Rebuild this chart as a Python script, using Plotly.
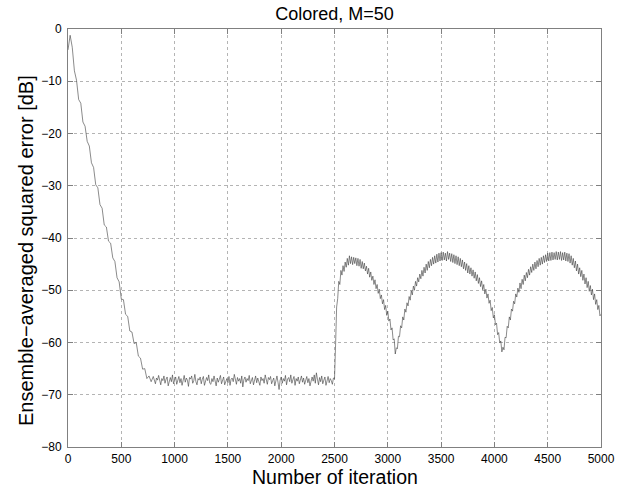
import plotly.graph_objects as go

# Descent phase: iterations 0..780, every 20 iterations
descent_start, descent_step = 0, 20
descent_db = [-4.0, -1.2, -3.5, -8.0, -9.8, -13.5, -14.2, -17.8, -18.6, -21.5,
              -22.4, -25.6, -26.5, -29.8, -30.4, -33.6, -34.3, -37.5, -37.9, -40.6,
              -41.0, -43.8, -44.5, -47.6, -48.4, -51.7, -51.8, -54.6, -55.0, -57.8,
              -58.0, -60.2, -60.0, -62.6, -63.0, -65.1, -65.0, -66.9, -66.4, -67.5]

# Steady-state floor: iterations 800..2500, every 10 iterations
floor_start, floor_step = 800, 10
floor_db = [-66.5, -67.4, -67.9, -66.8, -67.2, -66.3, -67.6, -68.1, -66.9, -67.3,
            -66.4, -67.8, -67.0, -66.6, -68.3, -67.2, -66.7, -67.5, -66.2, -67.9,
            -67.3, -66.6, -68.0, -67.1, -66.5, -67.7, -66.9, -68.2, -67.4, -66.3,
            -67.6, -66.8, -67.2, -68.4, -66.7, -67.0, -66.4, -67.8, -67.3, -66.1,
            -67.5, -68.1, -66.9, -67.2, -66.6, -67.9, -67.0, -66.5, -68.2, -67.4,
            -66.7, -67.3, -66.2, -67.8, -68.0, -66.9, -67.5, -66.4, -67.1, -68.3,
            -66.8, -67.6, -67.0, -66.3, -67.9, -67.2, -66.6, -68.1, -67.4, -66.9,
            -67.7, -66.5, -68.2, -67.0, -66.8, -67.5, -66.1, -67.3, -68.0, -66.7,
            -67.4, -66.9, -67.8, -66.4, -68.5, -67.1, -66.6, -67.6, -66.9, -67.3,
            -66.3, -67.9, -67.2, -66.7, -68.1, -67.0, -66.4, -67.7, -66.8, -67.5,
            -68.2, -66.6, -67.3, -66.9, -67.8, -66.2, -67.5, -68.0, -66.7, -67.1,
            -66.5, -67.9, -67.3, -66.8, -68.3, -67.0, -66.4, -67.6, -69.0, -67.2,
            -66.6, -67.8, -66.9, -67.4, -66.3, -68.1, -67.0, -66.7, -67.5, -66.2,
            -67.8, -67.1, -66.5, -68.2, -66.9, -67.4, -66.6, -67.9, -67.2, -66.4,
            -67.6, -66.8, -68.0, -67.3, -66.5, -67.7, -66.9, -68.3, -67.1, -66.6,
            -67.4, -66.2, -67.8, -65.8, -67.0, -68.1, -66.7, -67.5, -66.4, -67.9,
            -67.2, -66.6, -68.2, -67.0, -66.5, -67.7, -66.9, -67.3, -68.0, -66.8,
            -67.0]

# Tracking phase after the system change: iterations 2510..5000, every 10 iterations
track_start, track_step = 2510, 10
track_db = [-60.5, -53.2, -51.6, -48.3, -48.9, -46.2, -47.1, -45.3, -46.4, -44.6,
            -45.6, -43.9, -45.2, -43.4, -44.9, -43.6, -45.1, -43.7, -44.9, -43.8,
            -45.3, -43.9, -45.4, -44.1, -45.8, -44.5, -45.9, -44.8, -46.3, -45.4,
            -46.9, -45.8, -47.5, -46.5, -48.1, -47.3, -48.9, -48.0, -49.7, -48.9,
            -50.6, -49.8, -51.6, -50.9, -52.6, -51.8, -53.7, -52.9, -54.8, -54.0,
            -55.9, -55.5, -57.6, -57.2, -59.5, -59.3, -62.2, -61.0, -61.2, -58.8,
            -58.9, -56.8, -57.2, -55.1, -55.7, -53.6, -54.2, -52.4, -53.0, -51.2,
            -51.9, -50.1, -50.9, -49.2, -50.0, -48.3, -49.2, -47.6, -48.4, -46.9,
            -47.8, -46.2, -47.3, -45.6, -46.7, -45.0, -46.2, -44.5, -45.7, -44.1,
            -45.3, -43.7, -45.0, -43.4, -44.8, -43.1, -44.6, -42.9, -44.4, -42.8,
            -44.3, -42.7, -44.2, -42.9, -44.4, -42.6, -44.1, -42.9, -44.5, -43.0,
            -44.7, -43.2, -44.9, -43.4, -45.1, -43.6, -45.3, -43.9, -45.5, -44.2,
            -45.9, -44.6, -46.2, -44.9, -46.7, -45.3, -46.9, -45.7, -47.3, -46.1,
            -47.7, -46.5, -48.2, -47.0, -48.7, -47.6, -49.3, -48.2, -49.9, -48.9,
            -50.7, -49.8, -51.5, -50.7, -52.5, -51.9, -53.9, -53.3, -55.3, -54.7,
            -56.6, -56.3, -58.5, -58.1, -60.1, -59.7, -61.8, -60.9, -61.4, -59.0,
            -59.1, -56.9, -57.2, -55.1, -55.7, -53.6, -54.0, -52.1, -52.6, -50.7,
            -51.3, -49.6, -50.4, -48.6, -49.7, -47.9, -48.9, -47.1, -48.2, -46.6,
            -47.6, -46.0, -47.1, -45.5, -46.6, -45.0, -46.2, -44.6, -45.9, -44.3,
            -45.5, -43.9, -45.2, -43.7, -45.0, -43.4, -44.7, -43.2, -44.5, -42.9,
            -44.4, -42.8, -44.3, -42.7, -44.2, -42.8, -44.1, -42.6, -44.2, -42.7,
            -44.1, -42.6, -44.3, -42.8, -44.2, -42.7, -44.4, -42.9, -44.5, -43.0,
            -44.8, -43.4, -45.2, -43.9, -45.7, -44.4, -46.3, -45.0, -46.9, -45.7,
            -47.4, -46.2, -48.1, -46.9, -48.8, -47.6, -49.5, -48.3, -50.2, -49.1,
            -50.9, -49.8, -51.8, -50.7, -52.7, -51.8, -53.7, -52.9, -54.9, -54.6]

x_ticks = [0, 500, 1000, 1500, 2000, 2500, 3000, 3500, 4000, 4500, 5000]
y_ticks = [0, -10, -20, -30, -40, -50, -60, -70, -80]

iters, db = [], []
for start, step, seg in [(descent_start, descent_step, descent_db),
                         (floor_start, floor_step, floor_db),
                         (track_start, track_step, track_db)]:
    for i, v in enumerate(seg):
        iters.append(start + step * i)
        db.append(v)

FONT = "Liberation Sans, Arial, sans-serif"

fig = go.Figure()
fig.add_trace(go.Scatter(x=iters, y=db, mode="lines",
                         line=dict(color="#3c3c3c", width=0.6), showlegend=False))

axis_common = dict(showline=True, mirror="ticks", linecolor="#808080", linewidth=1,
                   ticks="inside", ticklen=5, tickcolor="#808080",
                   showgrid=True, gridcolor="#b4b4b4", griddash="dot", gridwidth=1,
                   zeroline=False, automargin=False,
                   tickfont=dict(family=FONT, size=12, color="black"))

fig.update_layout(
    width=627, height=488,
    margin=dict(l=68, r=26, t=29, b=41, autoexpand=False),
    paper_bgcolor="white", plot_bgcolor="white",
    title=dict(text="Colored, M=50", x=0.5, xref="paper", xanchor="center",
               y=1 - 14 / 488, yanchor="middle",
               font=dict(family=FONT, size=18, color="black")),
    xaxis=dict(range=[0, 5000], tickvals=x_ticks, ticktext=[str(t) for t in x_ticks],
               ticklabelstandoff=1, **axis_common),
    yaxis=dict(range=[-80, 0], tickvals=y_ticks,
               ticktext=[str(t).replace("-", "\u2212") for t in y_ticks],
               ticklabelstandoff=3, **axis_common),
    annotations=[
        dict(text="Number of iteration", xref="paper", yref="paper",
             x=0.5, y=(447 - 477) / 418,
             xanchor="center", yanchor="middle", showarrow=False,
             font=dict(family=FONT, size=19.5, color="black")),
        dict(text="Ensemble\u2212averaged squared error [dB]", xref="paper", yref="paper",
             x=-0.079, y=0.471, xanchor="center", yanchor="middle", textangle=-90,
             showarrow=False, font=dict(family=FONT, size=20, color="black")),
    ],
)

fig.write_html("out.html", config={"displayModeBar": False},
               post_script="document.body.style.margin='0';document.body.style.overflow='hidden';")
